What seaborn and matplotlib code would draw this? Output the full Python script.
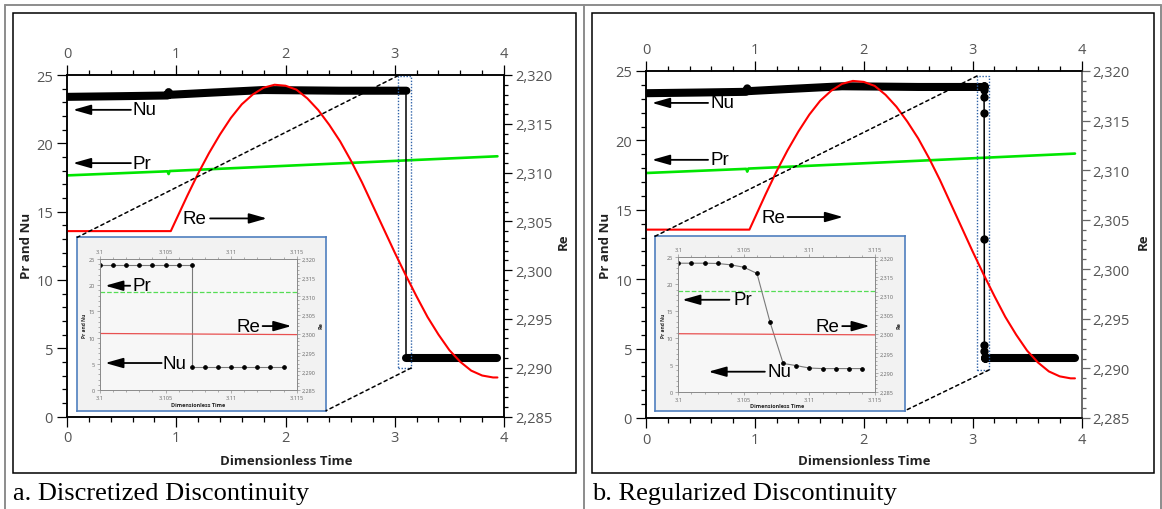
import matplotlib
matplotlib.use('Agg')
import matplotlib.pyplot as plt
import seaborn as sns
from matplotlib.patches import Rectangle, ConnectionPatch
from matplotlib.lines import Line2D
from matplotlib.ticker import MultipleLocator

sns.set_style('ticks')
plt.rcParams['font.family'] = ['Open Sans', 'DejaVu Sans']

# ---------------- data ----------------
x_ticks = [0, 1, 2, 3, 4]
x_tick_labels = ['0', '1', '2', '3', '4']
nu_pr_ticks = [0, 5, 10, 15, 20, 25]
nu_pr_tick_labels = ['0', '5', '10', '15', '20', '25']
re_ticks = [2285, 2290, 2295, 2300, 2305, 2310, 2315, 2320]
re_tick_labels = ['2,285', '2,290', '2,295', '2,300', '2,305', '2,310', '2,315', '2,320']

zoom_ticks = [3.1, 3.105, 3.11, 3.115]
zoom_tick_labels = ['3.1', '3.105', '3.11', '3.115']

# Nu before the jump (full time range)
nu_high_t = [0.0, 0.5, 0.92, 0.93, 0.94, 1.3, 1.8, 2.5, 3.107]
nu_high_v = [23.4, 23.45, 23.5, 23.75, 23.55, 23.7, 23.9, 23.85, 23.85]
# Nu after the jump
nu_low_t = [3.107, 3.94]
nu_low_v = [4.3, 4.3]

# Pr
pr_t = [0.0, 0.92, 0.93, 0.94, 3.94]
pr_v = [17.65, 17.95, 17.75, 17.97, 19.05]

# Re
re_t = [0.0, 0.95, 1.0, 1.1, 1.2, 1.3, 1.4, 1.5, 1.6, 1.7, 1.8, 1.9, 2.0, 2.1, 2.2,
        2.3, 2.4, 2.5, 2.6, 2.7, 2.8, 2.9, 3.0, 3.1, 3.2, 3.3, 3.4, 3.5, 3.6, 3.7,
        3.8, 3.9, 3.94]
re_v = [2304.0, 2304.0, 2305.2, 2307.6, 2309.9, 2312.0, 2313.9, 2315.6, 2317.0,
        2318.0, 2318.7, 2319.0, 2318.9, 2318.5, 2317.6, 2316.4, 2314.9, 2313.2,
        2311.2, 2309.0, 2306.6, 2304.2, 2301.8, 2299.5, 2297.3, 2295.2, 2293.4,
        2291.8, 2290.6, 2289.7, 2289.2, 2289.0, 2289.0]

# zoom window: discretized discontinuity
zoom_a_t = [3.100, 3.101, 3.102, 3.103, 3.104, 3.105, 3.106, 3.107,
            3.107, 3.108, 3.109, 3.110, 3.111, 3.112, 3.113, 3.114]
zoom_a_nu = [23.9, 23.9, 23.9, 23.9, 23.9, 23.9, 23.9, 23.9,
             4.3, 4.3, 4.3, 4.3, 4.3, 4.3, 4.3, 4.3]
# zoom window: regularized discontinuity
zoom_b_t = [3.100, 3.101, 3.102, 3.103, 3.104, 3.105, 3.106, 3.107,
            3.108, 3.109, 3.110, 3.111, 3.112, 3.113, 3.114]
zoom_b_nu = [23.9, 23.9, 23.9, 23.85, 23.6, 23.15, 22.0, 12.9,
             5.25, 4.85, 4.4, 4.3, 4.3, 4.3, 4.3]
zoom_line_t = [3.1, 3.115]
zoom_pr = [18.7, 18.7]
zoom_re = [2300.1, 2299.8]

# regularized main-view pieces
nu_high_b_t = [0.0, 0.5, 0.92, 0.93, 0.94, 1.3, 1.8, 2.5, 3.100]
nu_low_b_t = [3.111, 3.94]

# ---------------- layout helpers ----------------
W, H = 1162, 510
fig = plt.figure(figsize=(W / 100, H / 100), dpi=100)


def px(x0, y0, x1, y1):
    return [x0 / W, 1 - y1 / H, (x1 - x0) / W, (y1 - y0) / H]


TICK_COLOR = '#555555'
ANN_FONT = ['Liberation Sans', 'DejaVu Sans']


def style_main(ax, axr, right_color):
    ax.set_xlim(0, 4)
    ax.set_ylim(0, 25)
    axr.set_ylim(2285, 2320)
    ax.set_xticks(x_ticks)
    ax.set_xticklabels(x_tick_labels)
    ax.xaxis.set_minor_locator(MultipleLocator(0.2))
    ax.set_yticks(nu_pr_ticks)
    ax.set_yticklabels(nu_pr_tick_labels)
    ax.yaxis.set_minor_locator(MultipleLocator(1))
    axr.set_yticks(re_ticks)
    axr.set_yticklabels(re_tick_labels)
    axr.yaxis.set_minor_locator(MultipleLocator(1))
    ax.tick_params(axis='x', which='both', top=True, labeltop=True, bottom=True,
                   labelbottom=True, direction='out')
    ax.tick_params(axis='y', which='both', left=True, right=False, direction='out')
    ax.tick_params(which='major', length=7, width=0.9, color='k', labelsize=10.5,
                   labelcolor=TICK_COLOR, pad=3)
    ax.tick_params(which='minor', length=3.5, width=0.9, color='k')
    axr.tick_params(axis='y', which='both', direction='out', color=right_color)
    axr.tick_params(which='major', length=6, width=0.9, labelsize=10.5,
                    labelcolor=TICK_COLOR, pad=2)
    axr.tick_params(which='minor', length=3, width=0.9)
    for a in (ax, axr):
        for sp in a.spines.values():
            sp.set_linewidth(1.1)
            sp.set_color('black')
        a.set_xlabel('')
        a.set_ylabel('')
    axr.spines['right'].set_color(right_color)
    ax.spines['right'].set_color(right_color)
    ax.set_facecolor('none')


def arrow(ax, head, tail):
    ax.annotate('', xy=head, xytext=tail,
                arrowprops=dict(arrowstyle='-|>,head_length=0.6,head_width=0.17',
                                color='black', lw=1.3, mutation_scale=18,
                                shrinkA=0, shrinkB=0))


def label(ax, x, y, s):
    ax.text(x, y, s, fontsize=13.5, family=ANN_FONT, color='black',
            ha='left', va='center')


def style_inner(ax, axr):
    ax.set_xlim(3.1, 3.115)
    ax.set_ylim(0, 25)
    axr.set_ylim(2285, 2320)
    ax.set_xticks(zoom_ticks)
    ax.set_xticklabels(zoom_tick_labels)
    ax.xaxis.set_minor_locator(MultipleLocator(0.001))
    ax.set_yticks(nu_pr_ticks)
    ax.set_yticklabels(nu_pr_tick_labels)
    ax.yaxis.set_minor_locator(MultipleLocator(1))
    axr.set_yticks(re_ticks)
    axr.set_yticklabels(re_tick_labels)
    axr.yaxis.set_minor_locator(MultipleLocator(1))
    ax.tick_params(axis='x', which='both', top=True, labeltop=True, direction='out')
    ax.tick_params(axis='y', which='both', right=False, direction='out')
    for a in (ax, axr):
        a.tick_params(which='major', length=2.2, width=0.4, color='#777777',
                      labelsize=4, labelcolor='#666666', pad=1.5)
        a.tick_params(which='minor', length=1.2, width=0.4, color='#777777')
        for sp in a.spines.values():
            sp.set_linewidth(0.6)
            sp.set_color('#8a8a8a')
        a.set_xlabel('')
        a.set_ylabel('')
    axr.tick_params(axis='y', which='both', direction='out')
    ax.set_facecolor('#f7f7f7')
    ax.set_xlabel('Dimensionless Time', fontsize=4, fontweight='bold', labelpad=1)
    ax.set_ylabel('Pr and Nu', fontsize=3.5, fontweight='bold', labelpad=1)
    axr.set_ylabel('Re', fontsize=4, fontweight='bold', labelpad=2)


def frame_and_texts(cx0, cx1, caption, x_label_center, ylab_x, re_lab_x):
    fig.patches.append(Rectangle((cx0 / W, 1 - 474 / H), (cx1 - cx0) / W, (474 - 14) / H,
                                 transform=fig.transFigure, fill=False,
                                 ec='black', lw=1.1))
    fig.text(cx0 / W, 1 - 500 / H, caption, family=['Liberation Serif', 'DejaVu Serif'],
             fontsize=19, ha='left', va='baseline', color='black')
    fig.text(x_label_center / W, 1 - 462 / H, 'Dimensionless Time', fontsize=9.5,
             fontweight='bold', ha='center', va='center', color='#222222')
    fig.text(ylab_x / W, 1 - 246 / H, 'Pr and Nu', fontsize=9.5, fontweight='bold',
             rotation=90, ha='center', va='center', color='#222222')
    fig.text(re_lab_x / W, 1 - 242 / H, 'Re', fontsize=9.5, fontweight='bold',
             rotation=90, ha='center', va='center', color='#222222')


# table lines
for (xa, ya, xb, yb) in [(5, 6, 1161, 6), (5, 6, 5, 510), (584, 6, 584, 510),
                         (1161, 6, 1161, 510)]:
    fig.add_artist(Line2D([xa / W, xb / W], [1 - ya / H, 1 - yb / H],
                          transform=fig.transFigure, color='#8c8c8c', lw=1.4))

frame_and_texts(13, 576, 'a. Discretized Discontinuity', 286, 27, 563)
frame_and_texts(592, 1154, 'b. Regularized Discontinuity', 864, 606, 1143)

# ================= Panel a =================
ax_a = fig.add_axes(px(67, 76, 504, 417.5))
axr_a = ax_a.twinx()
sns.lineplot(x=pr_t, y=pr_v, ax=ax_a, color='#00e600', linewidth=1.9,
             estimator=None, sort=False)
sns.lineplot(x=nu_high_t, y=nu_high_v, ax=ax_a, color='black', linewidth=5.8,
             estimator=None, sort=False, solid_capstyle='round')
sns.lineplot(x=zoom_a_t, y=zoom_a_nu, ax=ax_a, color='black', linewidth=1.1,
             estimator=None, sort=False)
sns.lineplot(x=nu_low_t, y=nu_low_v, ax=ax_a, color='black', linewidth=5.8,
             estimator=None, sort=False, solid_capstyle='round')
sns.lineplot(x=re_t, y=re_v, ax=axr_a, color='#ff0000', linewidth=1.5,
             estimator=None, sort=False)
style_main(ax_a, axr_a, 'black')
ax_a.add_patch(Rectangle((3.03, 3.55), 0.12, 21.4, fill=False, ec='#2e62a8',
                         lw=1.0, ls=(0, (1, 1.2)), zorder=5))
arrow(ax_a, (0.055, 22.45), (0.585, 22.45))
label(ax_a, 0.6, 22.45, 'Nu')
arrow(ax_a, (0.055, 18.55), (0.585, 18.55))
label(ax_a, 0.6, 18.55, 'Pr')
label(ax_a, 1.06, 14.5, 'Re')
arrow(ax_a, (1.83, 14.5), (1.31, 14.5))

# inset a
box_a = fig.add_axes(px(77.3, 238.3, 326, 411.7))
box_a.set_xticks([])
box_a.set_yticks([])
box_a.set_facecolor('#f2f2f2')
for sp in box_a.spines.values():
    sp.set_color('#4f7fbf')
    sp.set_linewidth(1.2)
in_a = fig.add_axes(px(100, 260, 296.7, 391))
inr_a = in_a.twinx()
sns.lineplot(x=zoom_line_t, y=zoom_pr, ax=in_a, color='#55dd55', linewidth=0.9,
             linestyle='--', estimator=None, sort=False)
sns.lineplot(x=zoom_a_t, y=zoom_a_nu, ax=in_a, color='#7a7a7a', linewidth=0.8,
             marker='o', markersize=2.6, markerfacecolor='black',
             markeredgecolor='black', estimator=None, sort=False)
sns.lineplot(x=zoom_line_t, y=zoom_re, ax=inr_a, color='#e85050', linewidth=0.9,
             estimator=None, sort=False)
style_inner(in_a, inr_a)
arrow(in_a, (3.1004, 19.9), (3.1023, 19.9))
label(in_a, 3.1025, 19.9, 'Pr')
label(in_a, 3.1104, 12.2, 'Re')
arrow(in_a, (3.1146, 12.2), (3.1124, 12.2))
arrow(in_a, (3.1004, 5.15), (3.1047, 5.15))
label(in_a, 3.1048, 5.15, 'Nu')

for xyA, xyB in [((3.03, 24.95), (0, 1)), ((3.15, 3.55), (1, 0))]:
    fig.add_artist(ConnectionPatch(xyA=xyA, coordsA=ax_a.transData, xyB=xyB,
                                   coordsB=box_a.transAxes, color='black', lw=1.1,
                                   ls=(0, (2.2, 2.2)), zorder=10))

# ================= Panel b =================
ax_b = fig.add_axes(px(646, 72, 1081.5, 419))
axr_b = ax_b.twinx()
sns.lineplot(x=pr_t, y=pr_v, ax=ax_b, color='#00e600', linewidth=1.9,
             estimator=None, sort=False)
sns.lineplot(x=nu_high_b_t, y=nu_high_v, ax=ax_b, color='black', linewidth=5.8,
             estimator=None, sort=False, solid_capstyle='round')
sns.lineplot(x=zoom_b_t, y=zoom_b_nu, ax=ax_b, color='black', linewidth=1.1,
             marker='o', markersize=6, markeredgewidth=0, estimator=None, sort=False)
sns.lineplot(x=nu_low_b_t, y=nu_low_v, ax=ax_b, color='black', linewidth=5.8,
             estimator=None, sort=False, solid_capstyle='round')
sns.lineplot(x=re_t, y=re_v, ax=axr_b, color='#ff0000', linewidth=1.5,
             estimator=None, sort=False)
style_main(ax_b, axr_b, '#666666')
ax_b.add_patch(Rectangle((3.04, 3.46), 0.11, 21.18, fill=False, ec='#2e62a8',
                         lw=1.0, ls=(0, (1, 1.2)), zorder=5))
arrow(ax_b, (0.055, 22.7), (0.57, 22.7))
label(ax_b, 0.59, 22.7, 'Nu')
arrow(ax_b, (0.055, 18.6), (0.57, 18.6))
label(ax_b, 0.59, 18.6, 'Pr')
label(ax_b, 1.065, 14.48, 'Re')
arrow(ax_b, (1.81, 14.48), (1.30, 14.48))

# inset b
box_b = fig.add_axes(px(655, 237.3, 905, 411.7))
box_b.set_xticks([])
box_b.set_yticks([])
box_b.set_facecolor('#f2f2f2')
for sp in box_b.spines.values():
    sp.set_color('#4f7fbf')
    sp.set_linewidth(1.2)
in_b = fig.add_axes(px(678.3, 258.3, 875, 392.7))
inr_b = in_b.twinx()
sns.lineplot(x=zoom_line_t, y=zoom_pr, ax=in_b, color='#55dd55', linewidth=0.9,
             linestyle='--', estimator=None, sort=False)
sns.lineplot(x=zoom_b_t, y=zoom_b_nu, ax=in_b, color='#7a7a7a', linewidth=0.8,
             marker='o', markersize=2.6, markerfacecolor='black',
             markeredgecolor='black', estimator=None, sort=False)
sns.lineplot(x=zoom_line_t, y=zoom_re, ax=inr_b, color='#e85050', linewidth=0.9,
             estimator=None, sort=False)
style_inner(in_b, inr_b)
arrow(in_b, (3.1003, 17.1), (3.1039, 17.1))
label(in_b, 3.1042, 17.1, 'Pr')
label(in_b, 3.1105, 12.2, 'Re')
arrow(in_b, (3.1146, 12.2), (3.1125, 12.2))
arrow(in_b, (3.1023, 3.72), (3.1066, 3.72))
label(in_b, 3.1068, 3.72, 'Nu')

for xyA, xyB in [((3.04, 24.64), (0, 1)), ((3.15, 3.46), (1, 0))]:
    fig.add_artist(ConnectionPatch(xyA=xyA, coordsA=ax_b.transData, xyB=xyB,
                                   coordsB=box_b.transAxes, color='black', lw=1.1,
                                   ls=(0, (2.2, 2.2)), zorder=10))

fig.savefig('out.png', dpi=100)
